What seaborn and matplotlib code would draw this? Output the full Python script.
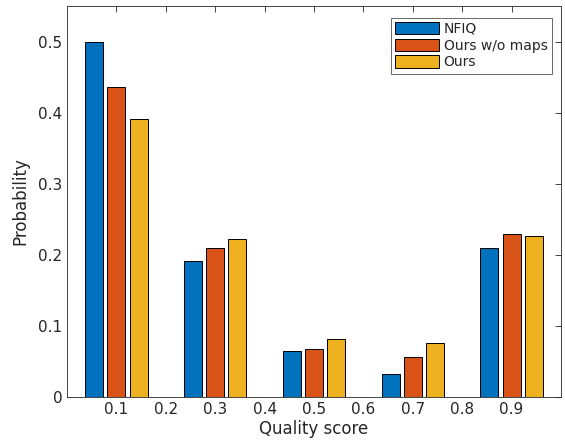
import numpy as np
import pandas as pd
import matplotlib
matplotlib.use("Agg")
import matplotlib.pyplot as plt
import seaborn as sns

# bin centres of the quality score histogram
bins = [0.1, 0.3, 0.5, 0.7, 0.9]
methods = ["NFIQ", "Ours w/o maps", "Ours"]
nfiq = [0.500, 0.191, 0.064, 0.033, 0.210]
ours_nomaps = [0.436, 0.210, 0.067, 0.056, 0.229]
ours = [0.391, 0.222, 0.082, 0.076, 0.226]
colors = ["#0072BD", "#D95319", "#EDB120"]

df = pd.DataFrame({
    "score": bins * 3,
    "prob": nfiq + ours_nomaps + ours,
    "method": [m for m in methods for _ in bins],
})

sns.set_style("white")
plt.rcParams["font.family"] = ["DejaVu Sans"]

fig = plt.figure(figsize=(5.65, 4.47), dpi=100)
ax = fig.add_axes([0.1186, 0.1119, 0.8743, 0.8747])

sns.barplot(data=df, x="score", y="prob", hue="method", hue_order=methods,
            palette=colors, saturation=1, native_scale=True, width=0.675, gap=0.19,
            edgecolor="black", linewidth=0.7, ax=ax, errorbar=None)

ax.set_xlim(0, 1)
ax.set_ylim(0, 0.55)
ax.set_xticks(np.arange(0.1, 1.0, 0.1))
ax.set_xticklabels([f"{t:.1f}" for t in np.arange(0.1, 1.0, 0.1)])
ax.set_yticks(np.arange(0, 0.51, 0.1))
ax.set_yticklabels(["0", "0.1", "0.2", "0.3", "0.4", "0.5"])
ax.tick_params(direction="in", top=True, right=True, length=4,
               labelsize=11, colors="#262626", width=0.6)
for s in ax.spines.values():
    s.set_color("#262626")
    s.set_linewidth(0.6)
ax.set_xlabel("Quality score", fontsize=12, color="#262626", labelpad=2)
ax.set_ylabel("Probability", fontsize=12, color="#262626", labelpad=6)

leg = ax.legend(loc="upper right", bbox_to_anchor=(0.981, 0.97), fontsize=10,
                frameon=True, fancybox=False, edgecolor="#262626",
                handlelength=3.2, handleheight=1.0, handletextpad=0.3,
                borderpad=0.3, labelspacing=0.2, borderaxespad=0)
leg.get_frame().set_linewidth(0.6)

fig.savefig("out.png", dpi=100)
